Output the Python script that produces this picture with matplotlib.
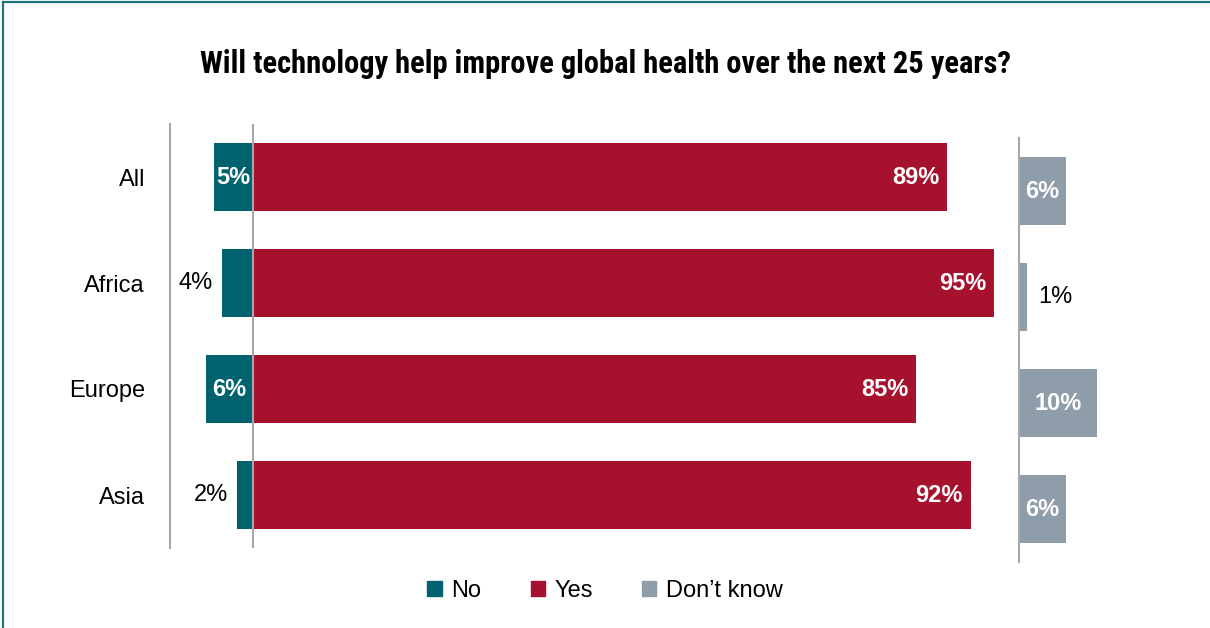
import matplotlib.pyplot as plt
from matplotlib.patches import Patch
from matplotlib.lines import Line2D

# survey answers, percent
regions = ["All", "Africa", "Europe", "Asia"]
no = [5, 4, 6, 2]
yes = [89, 95, 85, 92]
dont_know = [6, 1, 10, 6]

c_no = "#00626f"
c_yes = "#a6112e"
c_dk = "#8f9ca9"
c_axis = "#a8a8a8"

plt.rcParams['font.family'] = ['Liberation Sans', 'DejaVu Sans']

W, H = 1210, 628
fig = plt.figure(figsize=(W / 100, H / 100), dpi=100)

px = 7.8  # pixels per percent
zero_x = 253
fs = 17

def box(x0, y_top, w, h):
    # pixel box -> figure fraction
    return [x0 / W, 1 - (y_top + h) / H, w / W, h / H]

# main panel: No and Yes bars around the zero line
left_x, right_x = 170, 1010
ax = fig.add_axes(box(left_x, 124, right_x - left_x, 424))
ax.set_xlim(-(zero_x - left_x) / px, (right_x - zero_x) / px)
ax.set_ylim(3.5, -0.5)

ypos = range(len(regions))
bh = 0.64
ax.barh(ypos, [-v for v in no], height=bh, color=c_no)
ax.barh(ypos, yes, height=bh, color=c_yes)
ax.axvline(0, color=c_axis, lw=1.5)

for i, v in enumerate(no):
    if v >= 5:
        ax.text(-v / 2, i, f"{v}%", color="white", fontsize=fs,
                fontweight="bold", ha="center", va="center")
    else:
        ax.text(-v - 1.2, i, f"{v}%", color="black", fontsize=fs,
                ha="right", va="center")
for i, v in enumerate(yes):
    ax.text(v - 1.0, i, f"{v}%", color="white", fontsize=fs,
            fontweight="bold", ha="right", va="center")

ax.set_yticks(list(ypos))
ax.set_yticklabels(regions, fontsize=fs)
ax.tick_params(axis="y", length=0, pad=18)
ax.set_xticks([])
for s in ["top", "right", "bottom"]:
    ax.spines[s].set_visible(False)
ax.spines["left"].set_color(c_axis)
ax.spines["left"].set_linewidth(1.5)

# don't know panel, set a little lower
dk_x = 1019
ax2 = fig.add_axes(box(dk_x, 138, 150, 424))
ax2.set_xlim(0, 150 / px)
ax2.set_ylim(3.5, -0.5)
ax2.barh(ypos, dont_know, height=bh, color=c_dk)
for i, v in enumerate(dont_know):
    if v >= 5:
        ax2.text(v / 2, i, f"{v}%", color="white", fontsize=fs,
                 fontweight="bold", ha="center", va="center")
    else:
        ax2.text(v + 1.5, i, f"{v}%", color="black", fontsize=fs,
                 ha="left", va="center")
ax2.set_xticks([])
ax2.set_yticks([])
for s in ["top", "right", "bottom"]:
    ax2.spines[s].set_visible(False)
ax2.spines["left"].set_color(c_axis)
ax2.spines["left"].set_linewidth(1.5)

title = fig.text(0.5, 1 - 64 / H,
                 "Will technology help improve global health over the next 25 years?",
                 ha="center", va="center", fontsize=22, fontweight="bold",
                 family=['Roboto Condensed', 'Liberation Sans Narrow', 'Liberation Sans'])
# shrink the title until it spans about 818 px
renderer = fig.canvas.get_renderer()
tw = title.get_window_extent(renderer).width
if tw > 818:
    title.set_fontsize(22 * 818 / tw)

handles = [Patch(color=c_no, label="No"),
           Patch(color=c_yes, label="Yes"),
           Patch(color=c_dk, label="Don\u2019t know")]
fig.legend(handles=handles, loc="center", bbox_to_anchor=(0.5, 1 - 591 / H),
           ncol=3, frameon=False, fontsize=fs, handlelength=0.6,
           handleheight=0.6, handletextpad=0.4, columnspacing=2.1)

# thin frame on the left and top edges
fig.add_artist(Line2D([2.5 / W, 2.5 / W], [0, 1 - 2 / H], color="#1f7482",
                      lw=1.6, transform=fig.transFigure))
fig.add_artist(Line2D([2.5 / W, 1], [1 - 2 / H, 1 - 2 / H], color="#1f7482",
                      lw=1.6, transform=fig.transFigure))

fig.savefig("out.png", dpi=100)
